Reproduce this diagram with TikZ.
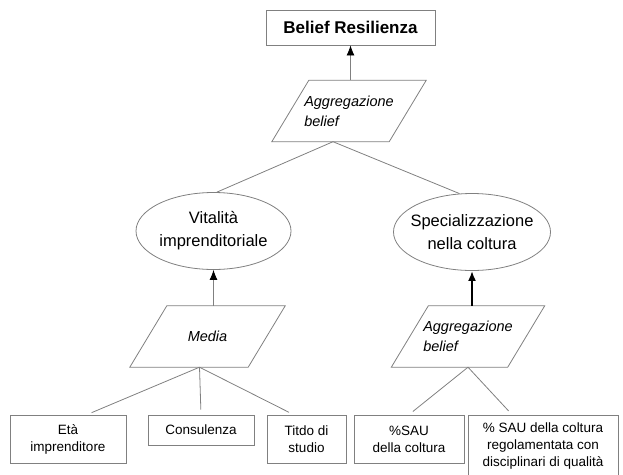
\documentclass[tikz,border=0pt]{standalone}
\usepackage{fontspec}
\setmainfont{Liberation Sans}
\usetikzlibrary{shapes.geometric,arrows.meta,calc}

\begin{document}
\begin{tikzpicture}[x=1pt,y=-1pt,
  box/.style={draw=gray, line width=0.8pt, align=center, inner sep=2pt, font=\fontsize{13.5}{17}\selectfont},
  para/.style={minimum height=61pt, inner sep=2pt, font=\itshape\fontsize{14.5}{20}\selectfont},
  frame/.style={draw=gray, line width=0.8pt},
  oval/.style={ellipse, draw=gray, line width=0.8pt, align=center, inner xsep=-12pt, inner ysep=0pt,
    minimum height=77pt, font=\fontsize{16.5}{23}\selectfont},
  link/.style={draw=gray, line width=0.8pt},
  up/.style={link, -{Latex[black,length=10pt,width=8pt]}}]
\useasboundingbox (0,0) rectangle (623,474);

% Goal
\node[box, font=\bfseries\fontsize{17}{20}\selectfont, minimum width=169pt, minimum height=35pt] (res) at (350.5,27.5) {Belief Resilienza};
\node[para, minimum width=154pt, align=left] (aggT) at (349,111) {Aggregazione\\belief};

% Intermediate beliefs
\node[oval, minimum width=155pt] (vit) at (213.5,231) {Vitalità\\imprenditoriale};
\node[oval, minimum width=157pt] (spec) at (472,232) {Specializzazione\\nella coltura};
\node[para, minimum width=155pt] (media) at (207.5,336.5) {Media};
\node[para, minimum width=153pt, align=left] (aggR) at (468,336.5) {Aggregazione\\belief};

% Parallelograms
\foreach \n in {aggT,media,aggR}
  \draw[frame] ($(\n.north west)+(37,0)$) -- (\n.north east) -- ($(\n.south east)+(-37,0)$) -- (\n.south west) -- cycle;

% Indicators
\node[box, minimum width=116pt, minimum height=48pt] (eta) at (68,439) {Età\\imprenditore};
\node[box, minimum width=106pt, minimum height=30pt] (cons) at (201,430) {Consulenza};
\node[box, minimum width=79pt, minimum height=48pt] (tit) at (306.5,439) {Titdo di\\studio};
\node[box, minimum width=110pt, minimum height=48pt] (sau) at (409,439) {\%SAU\\della coltura};
\node[box, minimum width=150pt, minimum height=62pt] (saureg) at (543,446) {\% SAU della coltura\\regolamentata con\\disciplinari di qualità};

% Connectors
\coordinate (aggTb) at ($(aggT.south)+(-16,0)$);
\coordinate (mediab) at ($(media.south)+(-8,0)$);
\draw[up] (aggT.north -| res.south) -- (res.south);
\draw[link] (aggTb) -- (vit.85);
\draw[link] (aggTb) -- (spec.108);
\draw[up] (media.north -| vit.south) -- (vit.south);
\draw[up, draw=black, line width=2.2pt] (aggR.north -| spec.south) -- (spec.south);
\draw[link, shorten >=5pt] (mediab) -- ($(eta.north)+(19,0)$);
\draw[link, shorten >=5pt] (mediab) -- (cons.north);
\draw[link, shorten >=5pt] (mediab) -- ($(tit.north)+(-13,0)$);
\draw[link, shorten >=5pt] (aggR.south) -- (sau.north);
\draw[link, shorten >=5pt] (aggR.south) -- ($(saureg.north)+(-31,0)$);

\end{tikzpicture}
\end{document}
